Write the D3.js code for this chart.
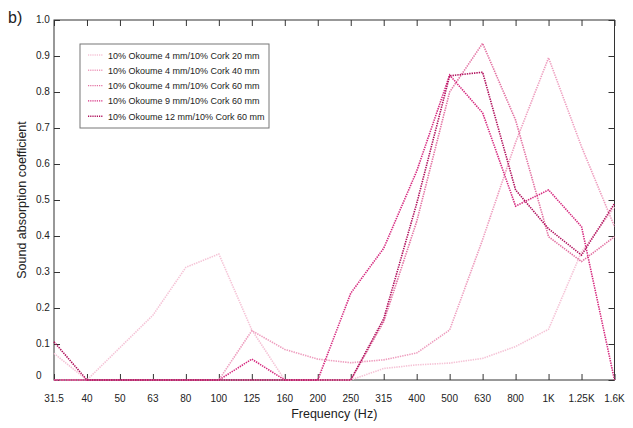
<!DOCTYPE html>
<html>
<head>
<meta charset="utf-8">
<script src="https://cdn.jsdelivr.net/npm/d3@7"></script>
<style>
  body { margin: 0; background: #fff; }
  text { font-family: "Liberation Sans", Arial, Helvetica, sans-serif; fill: #222; }
</style>
</head>
<body>
<svg id="chart" width="633" height="428"></svg>
<script>
// frequency bands (x categories)
const freqs = ["31.5","40","50","63","80","100","125","160","200","250","315","400","500","630","800","1K","1.25K","1.6K"];
const yTicks = [0, 0.1, 0.2, 0.3, 0.4, 0.5, 0.6, 0.7, 0.8, 0.9, 1.0];

// series values
const okoume4cork20 = [0.074, 0, 0.09, 0.18, 0.313, 0.35, 0.139, 0, 0, 0, 0.032, 0.042, 0.047, 0.06, 0.093, 0.141, 0.356, 0.48];
const okoume4cork40 = [0, 0, 0, 0, 0, 0, 0.137, 0.085, 0.058, 0.048, 0.056, 0.075, 0.139, 0.39, 0.66, 0.895, 0.648, 0.426];
const okoume4cork60 = [0, 0, 0, 0, 0, 0, 0, 0, 0, 0, 0.162, 0.44, 0.80, 0.935, 0.722, 0.398, 0.329, 0.398];
const okoume9cork60 = [0, 0, 0, 0, 0, 0, 0.058, 0, 0, 0.241, 0.366, 0.58, 0.847, 0.742, 0.483, 0.528, 0.426, 0];
const okoume12cork60 = [0.106, 0, 0, 0, 0, 0, 0, 0, 0, 0, 0.17, 0.49, 0.845, 0.855, 0.528, 0.42, 0.347, 0.49];

const seriesNames = [
  "10% Okoume 4 mm/10% Cork 20 mm",
  "10% Okoume 4 mm/10% Cork 40 mm",
  "10% Okoume 4 mm/10% Cork 60 mm",
  "10% Okoume 9 mm/10% Cork 60 mm",
  "10% Okoume 12 mm/10% Cork 60 mm"
];
const seriesValues = [okoume4cork20, okoume4cork40, okoume4cork60, okoume9cork60, okoume12cork60];
const seriesColors = ["#f5c3d6", "#ee9dbe", "#e372a2", "#d62a7f", "#b0105c"];

const margins = {left: 54, right: 18.5, top: 20, bottom: 48};
const width = 633, height = 428;

const svg = d3.select("#chart");

const x = d3.scalePoint()
    .domain(freqs)
    .range([margins.left, width - margins.right]);

const y = d3.scaleLinear()
    .domain([0, 1])
    .range([height - margins.bottom, margins.top]);

const axisColor = "#333";
const tickLen = 6;

// frame
svg.append("rect")
    .attr("x", margins.left)
    .attr("y", margins.top)
    .attr("width", x.range()[1] - margins.left)
    .attr("height", y(0) - y(1))
    .attr("fill", "none")
    .attr("stroke", axisColor)
    .attr("stroke-width", 1);

// inward ticks on all four sides
function ticksGroup(axis, tx, ty) {
  const g = svg.append("g").attr("transform", `translate(${tx},${ty})`).call(axis);
  g.select(".domain").remove();
  g.selectAll("line").attr("stroke", axisColor);
  g.selectAll("text").remove();
  return g;
}
ticksGroup(d3.axisTop(x).tickSize(tickLen), 0, y(0));
ticksGroup(d3.axisBottom(x).tickSize(tickLen), 0, y(1));
ticksGroup(d3.axisRight(y).tickValues(yTicks).tickSize(tickLen), margins.left, 0);
ticksGroup(d3.axisLeft(y).tickValues(yTicks).tickSize(tickLen), x.range()[1], 0);

// x tick labels
svg.append("g").selectAll("text")
    .data(freqs)
    .enter()
    .append("text")
    .attr("x", d => x(d))
    .attr("y", y(0) + 22)
    .attr("text-anchor", "middle")
    .attr("font-size", 10)
    .text(d => d);

// y tick labels (left aligned like the original)
svg.append("g").selectAll("text")
    .data(yTicks)
    .enter()
    .append("text")
    .attr("x", 36)
    .attr("y", d => d === 0 ? y(d) - 1 : y(d) + 3)
    .attr("font-size", 10)
    .text(d => d === 0 ? "0" : d3.format(".1f")(d));

// axis titles
svg.append("text")
    .attr("x", (margins.left + x.range()[1]) / 2)
    .attr("y", 418)
    .attr("text-anchor", "middle")
    .attr("font-size", 12.5)
    .text("Frequency (Hz)");

svg.append("text")
    .attr("transform", `translate(26,${(y(0) + y(1)) / 2}) rotate(-90)`)
    .attr("text-anchor", "middle")
    .attr("font-size", 12.5)
    .text("Sound absorption coefficient");

svg.append("text")
    .attr("x", 8)
    .attr("y", 23)
    .attr("font-size", 16)
    .text("b)");

// lines
const line = d3.line()
    .x((d, i) => x(freqs[i]))
    .y(d => y(d));

svg.append("g").selectAll("path")
    .data(seriesValues)
    .enter()
    .append("path")
    .attr("d", d => line(d))
    .attr("fill", "none")
    .attr("stroke", (d, i) => seriesColors[i])
    .attr("stroke-width", 1.6)
    .attr("stroke-dasharray", "1.4,1");

// legend
const legend = svg.append("g").attr("transform", "translate(80,44)");
legend.append("rect")
    .attr("width", 189)
    .attr("height", 84)
    .attr("fill", "#fff")
    .attr("stroke", "#777")
    .attr("stroke-width", 1);

const rows = legend.selectAll(".legendrow")
    .data(seriesNames)
    .enter()
    .append("g")
    .attr("class", "legendrow")
    .attr("transform", (d, i) => `translate(0,${11 + i * 15.3})`);

rows.append("line")
    .attr("x1", 8)
    .attr("x2", 23)
    .attr("y1", 0)
    .attr("y2", 0)
    .attr("stroke", (d, i) => seriesColors[i])
    .attr("stroke-width", 1.4)
    .attr("stroke-dasharray", "1.2,1");

rows.append("text")
    .attr("x", 28)
    .attr("y", 3.5)
    .attr("font-size", 9)
    .text(d => d);
</script>
</body>
</html>
